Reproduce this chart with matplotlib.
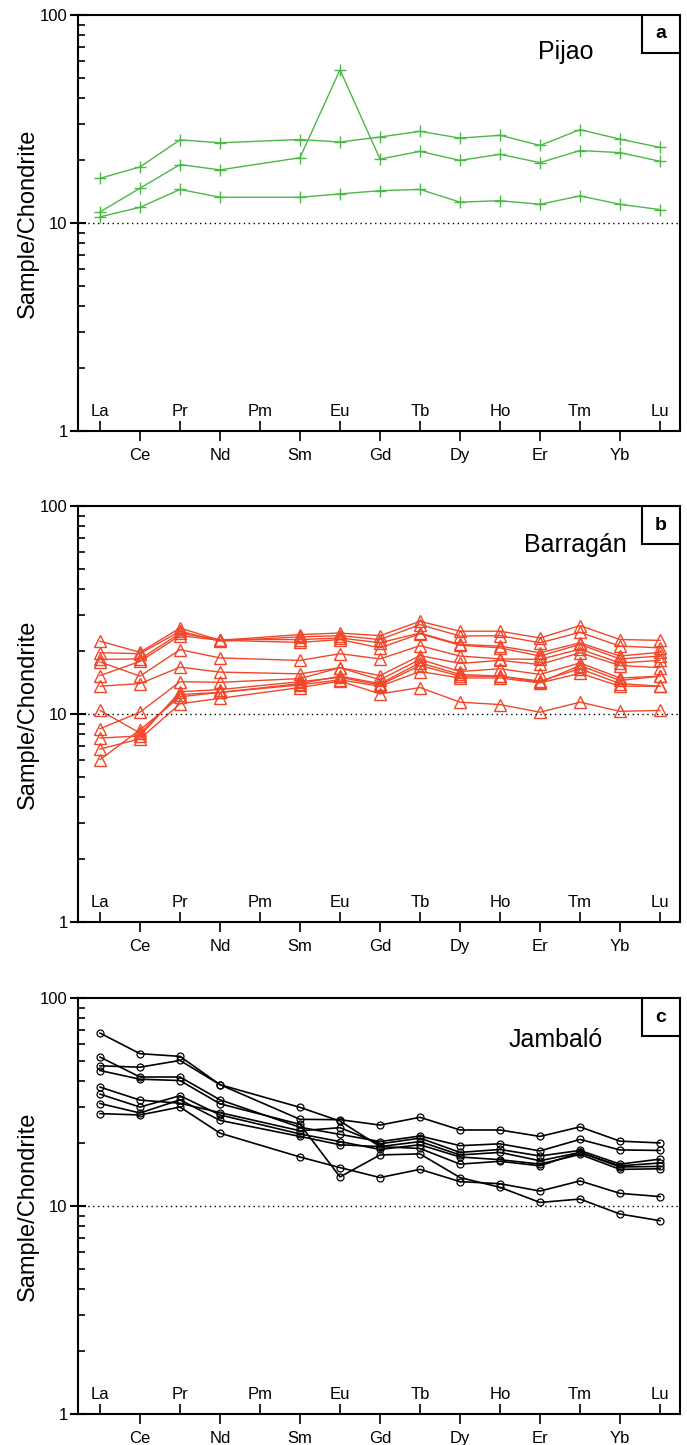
import numpy as np
import matplotlib
matplotlib.use("Agg")
import matplotlib.pyplot as plt
from matplotlib.patches import Rectangle
import matplotlib.transforms as mtransforms

plt.rcParams['font.family'] = ['Liberation Sans', 'DejaVu Sans']

# REE order, Pm is on the axis but not measured
elements = ['La', 'Ce', 'Pr', 'Nd', 'Pm', 'Sm', 'Eu', 'Gd', 'Tb', 'Dy', 'Ho', 'Er', 'Tm', 'Yb', 'Lu']
measured = ['La', 'Ce', 'Pr', 'Nd', 'Sm', 'Eu', 'Gd', 'Tb', 'Dy', 'Ho', 'Er', 'Tm', 'Yb', 'Lu']

# panel a - Pijao
pijao = [
    [16.4, 18.6, 25.1, 24.3, 25.2, 24.5, 25.9, 27.6, 25.6, 26.4, 23.6, 28.1, 25.3, 23.1],
    [11.3, 14.7, 19.1, 18.0, 20.6, 54.5, 20.3, 22.1, 20.0, 21.4, 19.5, 22.3, 21.8, 19.8],
    [10.7, 11.9, 14.5, 13.3, 13.3, 13.8, 14.3, 14.5, 12.6, 12.8, 12.3, 13.5, 12.3, 11.6],
]

# panel b - Barragan
barragan = [
    [22.4, 19.8, 25.9, 22.6, 24.1, 24.5, 23.8, 27.9, 25.0, 25.0, 23.2, 26.6, 22.8, 22.6],
    [19.7, 19.5, 25.0, 22.4, 23.5, 23.8, 22.8, 26.9, 23.7, 23.8, 22.0, 24.7, 21.2, 20.8],
    [18.3, 18.4, 24.4, 22.8, 22.8, 23.2, 22.0, 24.5, 21.6, 21.2, 19.7, 22.0, 19.0, 19.8],
    [15.3, 17.9, 23.8, 22.6, 22.1, 22.8, 20.8, 24.3, 21.4, 20.8, 19.0, 21.6, 18.4, 19.0],
    [17.8, 15.2, 20.4, 18.6, 18.1, 19.5, 18.4, 21.3, 19.0, 18.4, 18.3, 20.5, 17.6, 18.1],
    [13.6, 14.0, 16.8, 15.9, 15.6, 16.7, 15.3, 19.1, 17.5, 18.1, 17.3, 19.7, 17.1, 16.7],
    [10.4, 8.1, 12.4, 12.7, 14.0, 15.2, 14.0, 17.6, 15.5, 15.2, 14.2, 17.1, 14.5, 15.2],
    [8.5, 10.2, 14.3, 14.2, 14.8, 16.7, 14.6, 18.3, 16.0, 16.5, 15.5, 17.6, 14.9, 15.2],
    [7.66, 7.85, 12.8, 13.1, 14.3, 15.0, 13.8, 17.1, 15.2, 15.2, 14.4, 16.5, 14.0, 13.6],
    [6.78, 7.6, 11.2, 11.9, 13.4, 14.4, 12.5, 13.4, 11.4, 11.1, 10.2, 11.4, 10.3, 10.4],
    [6.03, 8.4, 12.1, 12.7, 13.8, 14.6, 13.6, 16.0, 14.9, 14.9, 14.1, 15.7, 13.6, 13.6],
]

# panel c - Jambalo
jambalo = [
    [67.8, 54.0, 52.4, 38.3, 29.8, 25.6, 19.3, 20.4, 17.6, 18.1, 16.5, 18.1, 15.4, 15.5],
    [47.2, 46.5, 50.1, 38.3, 26.1, 26.0, 24.5, 26.7, 23.2, 23.2, 21.6, 24.0, 20.5, 20.1],
    [52.0, 41.7, 41.7, 32.4, 23.9, 22.1, 20.4, 21.7, 19.5, 19.9, 18.4, 20.9, 18.6, 18.5],
    [44.8, 40.7, 40.1, 31.0, 24.7, 13.8, 17.6, 17.8, 13.7, 12.3, 10.4, 10.8, 9.15, 8.5],
    [37.3, 32.3, 31.2, 28.1, 23.0, 23.8, 19.9, 21.2, 18.1, 18.7, 17.4, 18.5, 15.9, 16.8],
    [34.5, 29.9, 33.9, 27.4, 22.2, 20.4, 18.7, 19.7, 17.2, 16.7, 15.9, 17.7, 15.0, 15.1],
    [31.1, 28.0, 32.4, 25.8, 21.6, 19.7, 19.3, 18.9, 15.9, 16.4, 15.6, 18.1, 15.6, 16.1],
    [27.8, 27.4, 29.9, 22.4, 17.2, 15.3, 13.7, 15.0, 13.1, 12.8, 11.8, 13.2, 11.5, 11.1],
]

panels = [
    (pijao, 'Pijao', 'a', '#4cb848', 1.0, dict(marker='+', ms=9, mew=1.0, mfc='none'), 0.81, 0.911),
    (barragan, 'Barragán', 'b', '#f0472a', 1.0, dict(marker='^', ms=8, mew=1.0, mfc='none'), 0.826, 0.906),
    (jambalo, 'Jambaló', 'c', 'black', 1.2, dict(marker='o', ms=5, mew=0.9, mfc='none'), 0.793, 0.899),
]

W, H = 687, 1445
fig = plt.figure(figsize=(W / 100, H / 100), dpi=100)

xpos = [elements.index(e) for e in measured]
tops = [15, 506, 998]

for (data, name, letter, color, lw, mk, tx, ty), top in zip(panels, tops):
    ax = fig.add_axes([78 / W, 1 - (top + 416) / H, 602 / W, 416 / H])
    for s in data:
        ax.plot(xpos, s, color=color, lw=lw, mec=color, **mk)
    ax.set_yscale('log')
    ax.set_ylim(1, 100)
    ax.set_xlim(-0.55, 14.5)
    ax.axhline(10, color='black', lw=1.0, ls=(0, (1, 2.5)))

    ax.set_yticks([1, 10, 100])
    ax.set_yticklabels(['1', '10', '100'])
    minors = [m * d for d in (1, 10) for m in range(2, 10)]
    ax.set_yticks(minors, minor=True)
    ax.yaxis.set_minor_formatter(plt.NullFormatter())
    ax.tick_params(axis='y', which='major', direction='inout', length=11, width=1.5, labelsize=12, pad=2)
    ax.tick_params(axis='y', which='minor', direction='in', length=5, width=1.2)

    # even positions: ticks in, labels inside; odd positions: ticks out, labels below
    odd = [i for i in range(len(elements)) if i % 2 == 1]
    even = [i for i in range(len(elements)) if i % 2 == 0]
    ax.set_xticks(odd)
    ax.set_xticklabels([elements[i] for i in odd])
    ax.set_xticks(even, minor=True)
    ax.tick_params(axis='x', which='major', direction='out', length=7, width=1.2, labelsize=12, pad=5)
    ax.tick_params(axis='x', which='minor', direction='in', length=7, width=1.2)
    trans = mtransforms.blended_transform_factory(ax.transData, ax.transAxes)
    for i in even:
        ax.text(i, 0.048, elements[i], transform=trans, ha='center', va='center', fontsize=12)

    for sp in ax.spines.values():
        sp.set_linewidth(1.5)

    ax.set_ylabel('Sample/Chondrite', fontsize=17, labelpad=1)
    ax.text(tx, ty, name, transform=ax.transAxes, ha='center', va='center', fontsize=18)
    bw, bh = 38 / 602, 38 / 416
    ax.add_patch(Rectangle((1 - bw, 1 - bh), bw, bh, transform=ax.transAxes,
                           facecolor='white', edgecolor='black', lw=1.5, zorder=5))
    ax.text(1 - bw / 2, 1 - bh / 2, letter, transform=ax.transAxes, ha='center', va='center',
            fontsize=14, fontweight='bold', zorder=6)

fig.savefig('out.png', dpi=100)
